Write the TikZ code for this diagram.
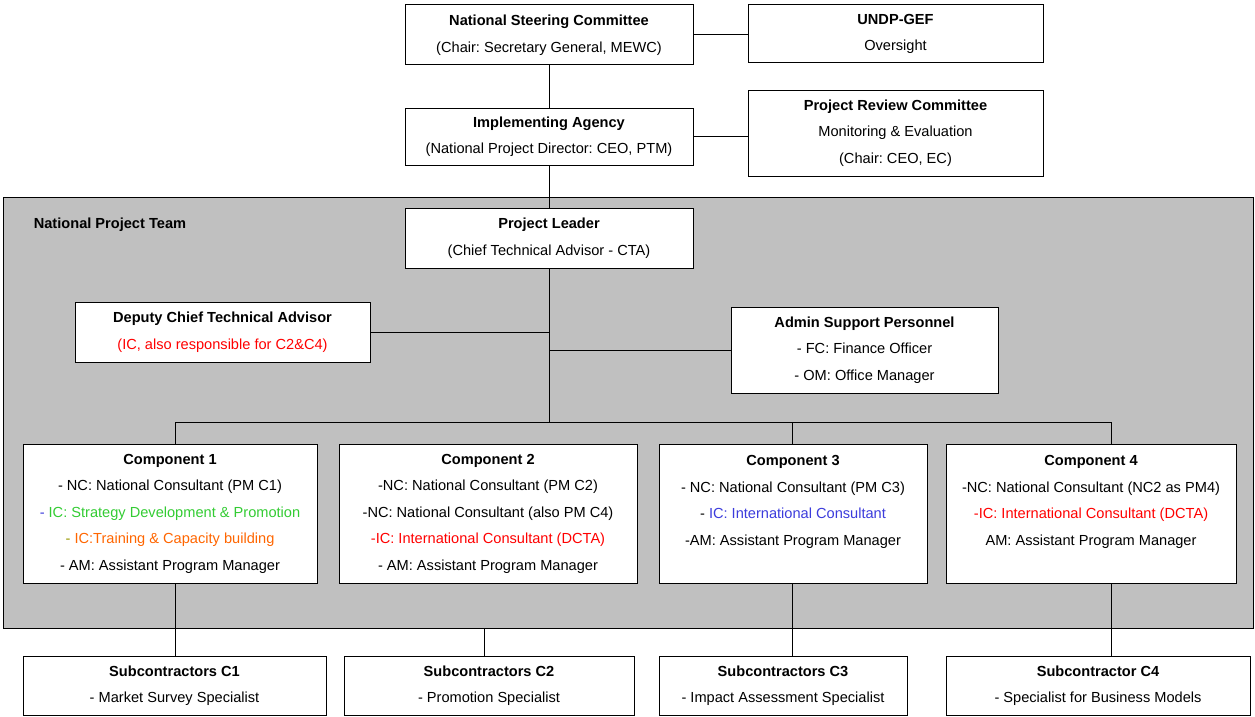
\documentclass[tikz,border=0pt]{standalone}
\usepackage{fontspec}
\setmainfont{Liberation Sans}
\usetikzlibrary{positioning}
\definecolor{panelgray}{RGB}{192,192,192}
\definecolor{icgreen}{RGB}{51,204,51}
\definecolor{icorange}{RGB}{255,102,0}
\definecolor{icblue}{RGB}{60,60,220}
\definecolor{icolive}{RGB}{153,153,0}
\frenchspacing

\begin{document}
\begin{tikzpicture}[
	x=1pt, y=-1pt,
	line width=1pt,
	on grid,
	align=center,
	font=\fontsize{14.6}{26.5}\selectfont,
	box/.style={
		rectangle,
		draw,
		fill=white,
		inner sep=0pt
	},
	unitbox/.style={
		box,
		minimum height=139pt
	},
	subbox/.style={
		box,
		minimum height=59pt
	}]

   \useasboundingbox (0,0) rectangle (1255,717);

   % top of the chart
   \node[box, minimum width=288pt, minimum height=60pt] (nsc) at (549,35)
   	{\textbf{National Steering Committee}\\(Chair: Secretary General, MEWC)};
   \node[box, minimum width=295pt, minimum height=58pt] (undp) at (895.5,34)
   	{\textbf{UNDP-GEF}\\Oversight};
   \node[box, minimum width=288pt, minimum height=57pt, below=101.5pt of nsc] (agency)
   	{\textbf{Implementing Agency}\\(National Project Director: CEO, PTM)};
   \node[box, minimum width=295pt, minimum height=86pt] (review) at (895.5,133)
   	{\textbf{Project Review Committee}\\Monitoring \& Evaluation\\(Chair: CEO, EC)};

   % national project team
   \node[draw, fill=panelgray, minimum width=1250pt, minimum height=431pt] (team) at (628,412.5) {};
   \node[font=\fontsize{14.6}{26.5}\selectfont\bfseries, anchor=west] (teamlabel) at (30,225)
   	{National Project Team};
   \node[box, minimum width=288pt, minimum height=60pt, below=101.5pt of agency] (leader)
   	{\textbf{Project Leader}\\(Chief Technical Advisor - CTA)};
   \node[box, minimum width=295pt, minimum height=60pt] (deputy) at (222.5,332)
   	{\textbf{Deputy Chief Technical Advisor}\\\textcolor{red}{(IC, also responsible for C2\&C4)}};
   \node[box, minimum width=267pt, minimum height=86pt] (admin) at (864.5,350)
   	{\textbf{Admin Support Personnel}\\- FC: Finance Officer\\- OM: Office Manager};

   \node[unitbox, minimum width=294pt] (comp1) at (170,513.5)
   	{\textbf{Component 1}\\- NC: National Consultant (PM C1)\\
   	 \textcolor{icblue}{- }\textcolor{icgreen}{IC: Strategy Development \& Promotion}\\
   	 \textcolor{icolive}{- }\textcolor{icorange}{IC:Training \& Capacity building}\\
   	 - AM: Assistant Program Manager};
   \node[unitbox, minimum width=298pt, right=318pt of comp1] (comp2)
   	{\textbf{Component 2}\\-NC: National Consultant (PM C2)\\
   	 -NC: National Consultant (also PM C4)\\
   	 \textcolor{red}{-IC: International Consultant (DCTA)}\\
   	 - AM: Assistant Program Manager};
   \node[unitbox, minimum width=268pt, right=305pt of comp2] (comp3)
   	{\textbf{Component 3}\\- NC: National Consultant (PM C3)\\
   	 - \textcolor{icblue}{IC: International Consultant}\\
   	 -AM: Assistant Program Manager\\~};
   \node[unitbox, minimum width=290pt, right=298pt of comp3] (comp4)
   	{\textbf{Component 4}\\-NC: National Consultant (NC2 as PM4)\\
   	 \textcolor{red}{-IC: International Consultant (DCTA)}\\
   	 AM: Assistant Program Manager\\~};

   % subcontractors
   \node[subbox, minimum width=303pt] (sub1) at (174.5,685.5)
   	{\textbf{Subcontractors C1}\\- Market Survey Specialist};
   \node[subbox, minimum width=290pt] (sub2) at (489,685.5)
   	{\textbf{Subcontractors C2}\\- Promotion Specialist};
   \node[subbox, minimum width=248pt] (sub3) at (783,685.5)
   	{\textbf{Subcontractors C3}\\- Impact Assessment Specialist};
   \node[subbox, minimum width=304pt] (sub4) at (1098,685.5)
   	{\textbf{Subcontractor C4}\\- Specialist for Business Models};

   \coordinate (bus) at (549,422);
   \coordinate (bus1) at (175,422);
   \coordinate (bus3) at (792,422);
   \coordinate (bus4) at (1111,422);
   \coordinate (drop2) at (484,628);

   \draw (nsc.east) -- (nsc.east -| undp.west);
   \draw (nsc) -- (agency);
   \draw (agency.east) -- (agency.east -| review.west);
   \draw (agency) -- (leader);
   \draw (leader) -- (bus);
   \draw (deputy.east) -- (deputy.east -| leader.south);
   \draw (admin.west) -- (admin.west -| leader.south);
   \draw (bus1) -- (bus4);
   \draw (bus1) -- (bus1 |- comp1.north);
   \draw (bus3) -- (bus3 |- comp3.north);
   \draw (bus4) -- (bus4 |- comp4.north);
   \draw (bus1 |- comp1.south) -- (bus1 |- sub1.north);
   \draw (drop2) -- (drop2 |- sub2.north);
   \draw (bus3 |- comp3.south) -- (bus3 |- sub3.north);
   \draw (bus4 |- comp4.south) -- (bus4 |- sub4.north);
\end{tikzpicture}
\end{document}
